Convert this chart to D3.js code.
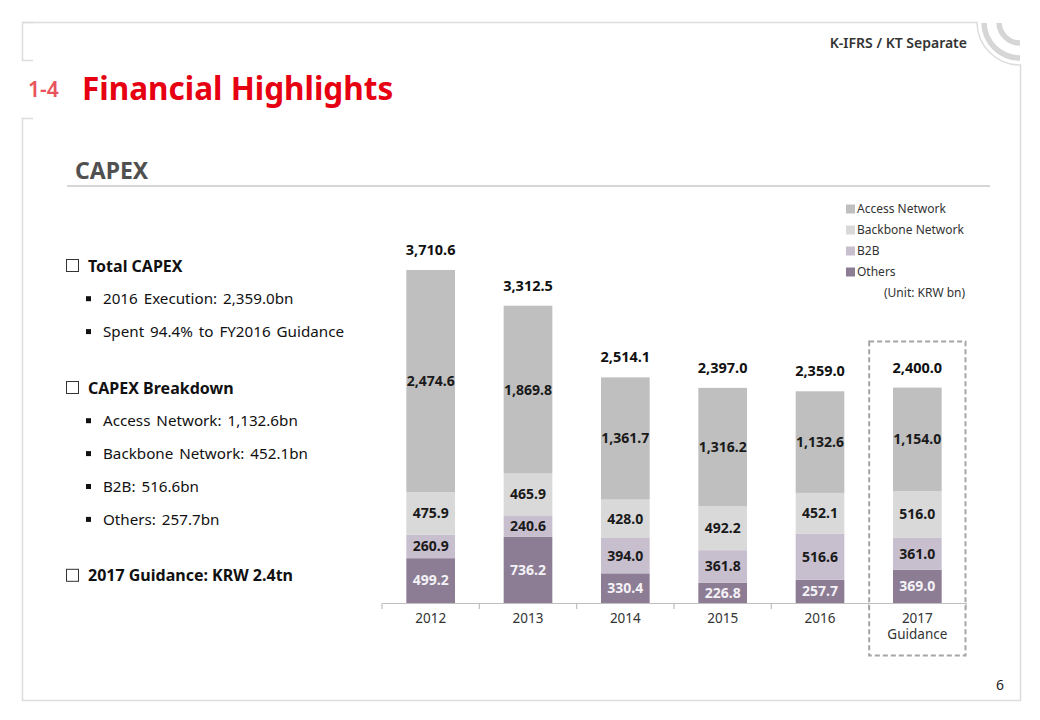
<!DOCTYPE html>
<html>
<head>
<meta charset="utf-8">
<script src="https://cdn.jsdelivr.net/npm/d3@7"></script>
<style>
  html, body { margin: 0; padding: 0; background: #fff; }
  svg { display: block; font-family: "Noto Sans", "Open Sans", sans-serif; }
</style>
</head>
<body>
<svg id="chart" width="1040" height="720"></svg>
<script>
// ---- data ----
const categories = ["2012", "2013", "2014", "2015", "2016", "2017 Guidance"];
const seriesNames = ["Others", "B2B", "Backbone Network", "Access Network"];
const others   = [499.2, 736.2, 330.4, 226.8, 257.7, 369.0];
const b2b      = [260.9, 240.6, 394.0, 361.8, 516.6, 361.0];
const backbone = [475.9, 465.9, 428.0, 492.2, 452.1, 516.0];
const access   = [2474.6, 1869.8, 1361.7, 1316.2, 1132.6, 1154.0];
const totals   = [3710.6, 3312.5, 2514.1, 2397.0, 2359.0, 2400.0];
const legendOrder = ["Access Network", "Backbone Network", "B2B", "Others"];
const bulletBlocks = [
  { head: "Total CAPEX", items: ["2016 Execution: 2,359.0bn", "Spent 94.4% to FY2016 Guidance"] },
  { head: "CAPEX Breakdown", items: ["Access Network: 1,132.6bn", "Backbone Network: 452.1bn", "B2B: 516.6bn", "Others: 257.7bn"] },
  { head: "2017 Guidance: KRW 2.4tn", items: [] }
];

const colors = {
  "Others": "#8c7d95",
  "B2B": "#c8bfce",
  "Backbone Network": "#d9d9d9",
  "Access Network": "#bfbfbf"
};
const labelColors = { "Others": "#f4f2f6", "B2B": "#1a1a1a", "Backbone Network": "#1a1a1a", "Access Network": "#1a1a1a" };

const svg = d3.select("#chart");

// ---- page frame ----
const frame = svg.append("g").attr("fill", "none").attr("stroke", "#dcdcdc").attr("stroke-width", 1.5);
frame.append("path").attr("d", "M33,22.5 L22.5,22.5 L22.5,60.5 L33,60.5");
frame.append("path").attr("d", "M22.5,22.5 L977,22.5 A43,43 0 0 0 1020.5,65 L1020.5,700.5 L22.5,700.5 L22.5,118.5 L33,118.5");
// corner arcs
svg.append("clipPath").attr("id", "cornerClip").append("rect").attr("x", 970).attr("y", 23).attr("width", 50).attr("height", 45);
const arcG = svg.append("g").attr("clip-path", "url(#cornerClip)");
[36, 21].forEach(r => {
  arcG.append("circle").attr("cx", 1020).attr("cy", 22).attr("r", r)
    .attr("fill", "none").attr("stroke", "#d6d6d6").attr("stroke-width", 5.5);
});

// ---- header ----
svg.append("text").attr("x", 967).attr("y", 48).attr("text-anchor", "end")
  .attr("font-size", 14).attr("font-weight", 600).attr("fill", "#333").text("K-IFRS / KT Separate");
svg.append("text").attr("x", 28).attr("y", 97).attr("font-size", 21).attr("font-weight", 600)
  .attr("fill", "#e8545c").text("1-4");
svg.append("text").attr("x", 82).attr("y", 100).attr("font-size", 31.5).attr("font-weight", 700)
  .attr("fill", "#e60012").text("Financial Highlights");
svg.append("text").attr("x", 75).attr("y", 179).attr("font-size", 23).attr("font-weight", 700)
  .attr("fill", "#505050").text("CAPEX");
svg.append("line").attr("x1", 67).attr("x2", 990).attr("y1", 186).attr("y2", 186)
  .attr("stroke", "#c8c8c8").attr("stroke-width", 1.5);

// ---- left bullet text ----
const lg = svg.append("g");
let yy = 266;
bulletBlocks.forEach((b) => {
  lg.append("rect").attr("x", 66.5).attr("y", yy - 6.5).attr("width", 12).attr("height", 12)
    .attr("fill", "none").attr("stroke", "#333").attr("stroke-width", 1);
  lg.append("text").attr("x", 88).attr("y", yy).attr("dy", "0.35em")
    .attr("font-size", 16).attr("font-weight", 700).attr("fill", "#111").text(b.head);
  yy += 32.7;
  b.items.forEach(t => {
    lg.append("rect").attr("x", 86).attr("y", yy - 2.5).attr("width", 5).attr("height", 5).attr("fill", "#111");
    lg.append("text").attr("x", 103).attr("y", yy).attr("dy", "0.35em")
      .attr("font-size", 15.2).attr("word-spacing", 2).attr("fill", "#111").text(t);
    yy += 32.9;
  });
  yy += 23.5;
});

// ---- chart ----
const x = d3.scaleBand().domain(categories).range([382, 966]).paddingInner(0.5).paddingOuter(0.25);
const y = d3.scaleLinear().domain([0, 4000]).range([603, 244]);

const table = categories.map((c, i) => ({
  cat: c, "Others": others[i], "B2B": b2b[i], "Backbone Network": backbone[i], "Access Network": access[i], total: totals[i]
}));
const stacked = d3.stack().keys(seriesNames)(table);
const fmt = d3.format(",.1f");

const layers = svg.append("g").selectAll("g").data(stacked).join("g")
  .attr("fill", d => colors[d.key]);
layers.selectAll("rect").data(d => d).join("rect")
  .attr("x", d => x(d.data.cat))
  .attr("width", x.bandwidth())
  .attr("y", d => y(d[1]))
  .attr("height", d => y(d[0]) - y(d[1]));

// segment labels
stacked.forEach(layer => {
  svg.append("g").selectAll("text").data(layer).join("text")
    .attr("x", d => x(d.data.cat) + x.bandwidth() / 2)
    .attr("y", d => (y(d[0]) + y(d[1])) / 2)
    .attr("dy", "0.35em")
    .attr("text-anchor", "middle")
    .attr("font-size", 14).attr("font-weight", 700)
    .attr("fill", labelColors[layer.key])
    .text(d => fmt(d[1] - d[0]));
});

// total labels
svg.append("g").selectAll("text").data(table).join("text")
  .attr("x", d => x(d.cat) + x.bandwidth() / 2)
  .attr("y", d => y(d.total) - 20)
  .attr("dy", "0.35em")
  .attr("text-anchor", "middle")
  .attr("font-size", 14.5).attr("font-weight", 700).attr("fill", "#111")
  .text(d => fmt(d.total));

// x axis
const axis = svg.append("g").attr("transform", "translate(0,603)")
  .call(d3.axisBottom(x).tickSize(0).tickPadding(10));
axis.select(".domain").attr("stroke", "#bfbfbf").attr("stroke-width", 1.2);
axis.selectAll(".tick text").attr("font-size", 13.5).attr("fill", "#333")
  .attr("font-family", "'Noto Sans', sans-serif")
  .each(function(d) {
    const parts = d.split(" ");
    const t = d3.select(this);
    t.text(null);
    parts.forEach((p, i) => t.append("tspan").attr("x", 0).attr("dy", i === 0 ? "0.71em" : "1.2em").text(p));
  });
// boundary ticks
const step = x.step();
const bounds = d3.range(categories.length + 1).map(i => 382 + i * step);
svg.append("g").selectAll("line").data(bounds).join("line")
  .attr("x1", d => d).attr("x2", d => d).attr("y1", 603).attr("y2", 609)
  .attr("stroke", "#bfbfbf").attr("stroke-width", 1.2);

// dashed guidance box
const last = categories[categories.length - 1];
svg.append("rect")
  .attr("x", x(last) - step * 0.25 + 0.5).attr("y", 341.5)
  .attr("width", step - 1).attr("height", 314)
  .attr("fill", "none").attr("stroke", "#a6a6a6").attr("stroke-width", 2).attr("stroke-dasharray", "5,3");

// legend
const leg = svg.append("g");
legendOrder.forEach((k, i) => {
  const ly = 209 + i * 21;
  leg.append("rect").attr("x", 846).attr("y", ly - 4.5).attr("width", 9).attr("height", 9).attr("fill", colors[k]);
  leg.append("text").attr("x", 857).attr("y", ly).attr("dy", "0.35em")
    .attr("font-size", 12).attr("fill", "#333").text(k);
});
leg.append("text").attr("x", 884).attr("y", 293).attr("dy", "0.35em")
  .attr("font-size", 12).attr("fill", "#333").text("(Unit: KRW bn)");

// page number
svg.append("text").attr("x", 1004).attr("y", 685).attr("dy", "0.35em").attr("text-anchor", "end")
  .attr("font-size", 14).attr("fill", "#222").text("6");
</script>
</body>
</html>
